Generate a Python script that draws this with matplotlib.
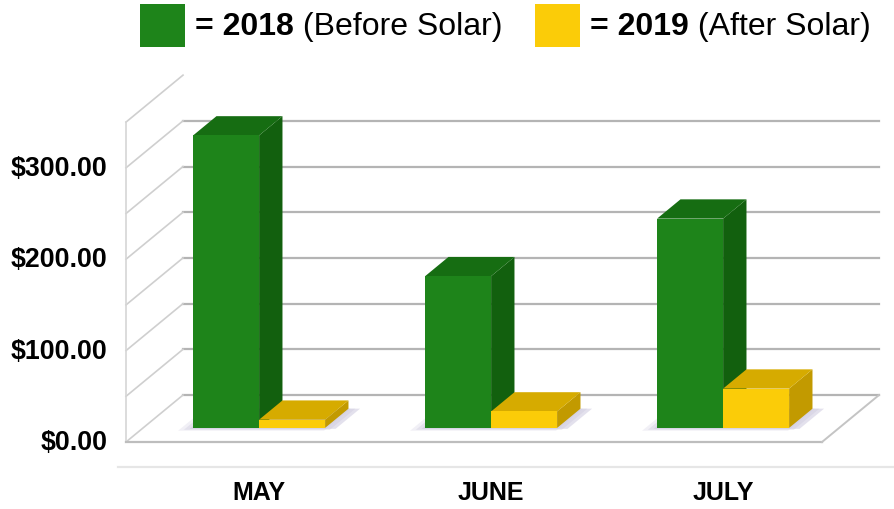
import numpy as np
import matplotlib
matplotlib.use("Agg")
import matplotlib.pyplot as plt
from matplotlib.patches import Polygon, Rectangle

plt.rcParams['font.family'] = ['Liberation Sans', 'DejaVu Sans']

# data
months = ["MAY", "JUNE", "JULY"]
bill_2018 = [320, 166, 229]
bill_2019 = [9, 18, 43]
yticks = [0, 100, 200, 300]
ytick_labels = ["$0.00", "$100.00", "$200.00", "$300.00"]
grid_vals = [0, 50, 100, 150, 200, 250, 300]

# 3d look
DX, DY = 0.2457, 51.4      # full depth offset (x units, dollars)
BAR_D0, BAR_D1 = 0.30, 0.71
BAR_W = 0.2845
X0, X1 = -0.5, 2.5
TOP = 350

green = ("#1e841a", "#166d12", "#12600e")   # front, top, side
yellow = ("#fbcc08", "#d6ab00", "#c29a00")


def proj(x, v, d):
    return (x + d * DX, v + d * DY)


def box(ax, x0, x1, h, cols):
    front, top, side = cols
    side_pts = [proj(x1, 0, BAR_D0), proj(x1, 0, BAR_D1), proj(x1, h, BAR_D1), proj(x1, h, BAR_D0)]
    top_pts = [proj(x0, h, BAR_D0), proj(x1, h, BAR_D0), proj(x1, h, BAR_D1), proj(x0, h, BAR_D1)]
    front_pts = [proj(x0, 0, BAR_D0), proj(x1, 0, BAR_D0), proj(x1, h, BAR_D0), proj(x0, h, BAR_D0)]
    ax.add_patch(Polygon(side_pts, closed=True, fc=side, ec='none', zorder=5))
    ax.add_patch(Polygon(top_pts, closed=True, fc=top, ec='none', zorder=5))
    ax.add_patch(Polygon(front_pts, closed=True, fc=front, ec='none', zorder=5))


fig = plt.figure(figsize=(8.94, 5.10), dpi=100)
ax = fig.add_axes([0, 0, 1, 1])
ax.set_xlim(-1.0431, 2.8103)
ax.set_ylim(-73.3, 484.7)
ax.axis('off')

# back wall grid
for v in grid_vals:
    a, b = proj(X0, v, 1), proj(X1, v, 1)
    ax.plot([a[0], b[0]], [a[1], b[1]], color='#b4b4b4', lw=1.6, zorder=1)
# left wall diagonals
for v in grid_vals + [TOP]:
    a, b = proj(X0, v, 0), proj(X0, v, 1)
    ax.plot([a[0], b[0]], [a[1], b[1]], color='#cfcfcf', lw=1.2, zorder=1)
ax.plot([X0, X0], [0, TOP], color='#d6d6d6', lw=1.2, zorder=1)
# floor
ax.plot([X0, X1], [0, 0], color='#bdbdbd', lw=1.6, zorder=1)
a = proj(X1, 0, 1)
ax.plot([X1, a[0]], [0, a[1]], color='#c4c4c4', lw=1.4, zorder=1)
# lower baseline
ax.plot([-0.534, 2.81], [-27.4, -27.4], color='#e6e6e6', lw=1.6, zorder=1)

for i, (g, y) in enumerate(zip(bill_2018, bill_2019)):
    # soft shadow on the floor
    for k, al in enumerate([0.25, 0.35, 0.5]):
        s = 0.05 - 0.02 * k
        pts = [proj(i - BAR_W - s, 0, BAR_D0 - 0.06 + 0.02 * k),
               proj(i + BAR_W + 0.06 - s, 0, BAR_D0 - 0.06 + 0.02 * k),
               proj(i + BAR_W + 0.06 - s, 0, BAR_D1),
               proj(i - BAR_W - s, 0, BAR_D1)]
        ax.add_patch(Polygon(pts, closed=True, fc='#c9c5dc', ec='none', alpha=al, zorder=2))
    box(ax, i - BAR_W, i, g, green)
    box(ax, i, i + BAR_W, y, yellow)
    ax.text(i + BAR_D0 * DX, -54.7, months[i], ha='center', va='center',
            fontsize=18, fontweight='bold', color='black')

for v, lab in zip(yticks, ytick_labels):
    ax.annotate(lab, xy=(X0, v), xytext=(-13.5, 0), textcoords='offset points',
                ha='right', va='center', fontsize=19.3, fontweight='bold')

# legend at the top
H = 510.0
fig.patches.append(Rectangle((140 / 894, 1 - 48 / H), 45 / 894, 43 / H,
                             transform=fig.transFigure, fc=green[0], ec='none'))
fig.patches.append(Rectangle((535 / 894, 1 - 48 / H), 45 / 894, 43 / H,
                             transform=fig.transFigure, fc=yellow[0], ec='none'))
fig.canvas.draw()
r = fig.canvas.get_renderer()
for x_px, bold_txt, reg_txt in [(195, "= 2018", " (Before Solar)"), (590, "= 2019", " (After Solar)")]:
    t1 = fig.text(x_px / 894, 1 - 27 / H, bold_txt, ha='left', va='center',
                  fontsize=23, fontweight='bold')
    bb = t1.get_window_extent(renderer=r)
    fig.text(bb.x1 / 894, 1 - 27 / H, reg_txt, ha='left', va='center', fontsize=23)

fig.savefig("out.png", dpi=100, facecolor='white')
